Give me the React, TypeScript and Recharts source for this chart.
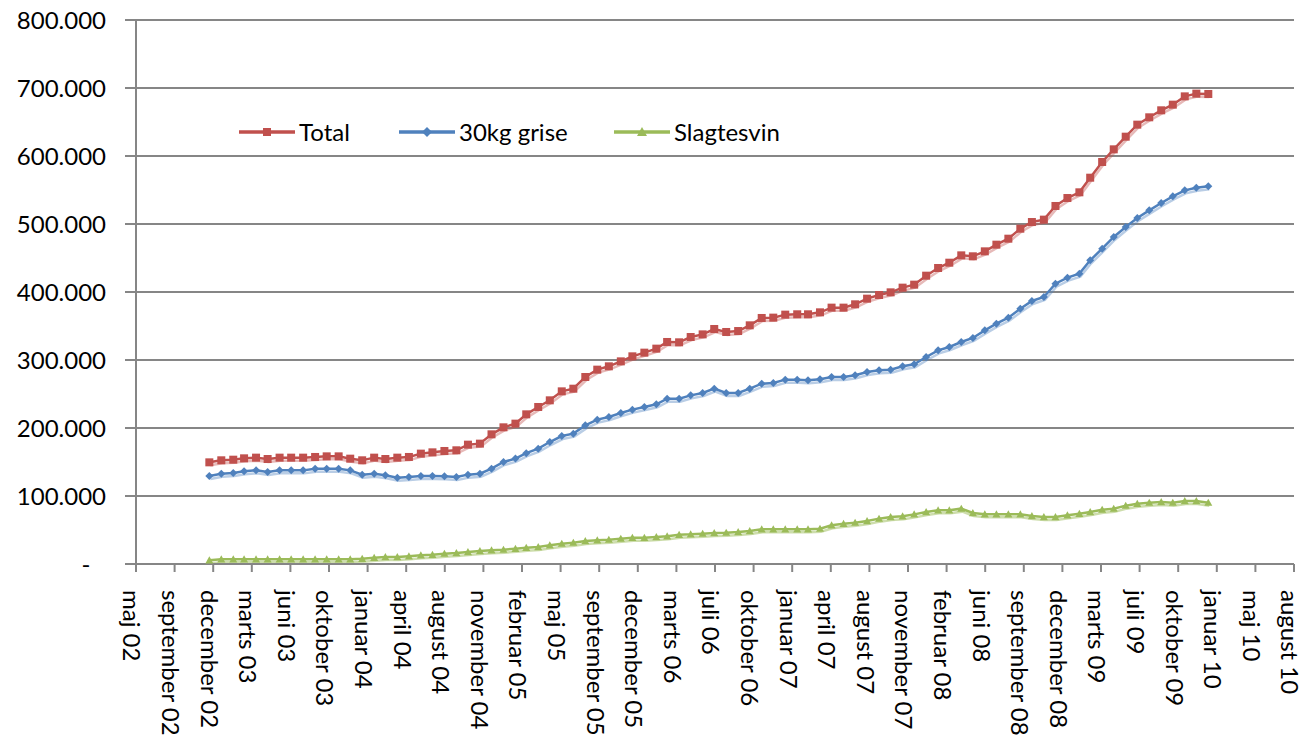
import React from "react";
import { CartesianGrid, Legend, Line, LineChart, XAxis, YAxis } from "recharts";

// x axis is counted in days from 25 May 2002, with a tick every 100 days (Excel date axis)
const AXIS_START = Date.UTC(2002, 4, 25);
const DAY = 86400000;

const TICK_LABELS = [
  "maj 02", "september 02", "december 02", "marts 03", "juni 03", "oktober 03",
  "januar 04", "april 04", "august 04", "november 04", "februar 05", "maj 05",
  "september 05", "december 05", "marts 06", "juli 06", "oktober 06", "januar 07",
  "april 07", "august 07", "november 07", "februar 08", "juni 08", "september 08",
  "december 08", "marts 09", "juli 09", "oktober 09", "januar 10", "maj 10", "august 10",
];

// monthly values in thousands, december 2002 .. januar 2010
const TOTAL = [
  149.5, 152.5, 153.4, 155.4, 156.4, 154.4, 156.4, 156.4, 156.4, 157.4, 158.3, 158.3,
  154.9, 152.5, 156.4, 154.4, 156.4, 157.4, 162.3, 164.2, 166.2, 167.2, 175.5, 177,
  190.7, 201, 206.4, 220.1, 230.9, 240.7, 253.9, 257.8, 275, 285.8, 290.7, 298,
  305.4, 310.8, 316.7, 326.5, 326, 333.8, 337.7, 345.6, 341.2, 342.6, 351, 361.8,
  362.3, 366.7, 367.2, 367.2, 370.1, 377, 377, 381.9, 390.2, 395.6, 399.5, 406.4,
  410.8, 424, 435.3, 443.1, 453.9, 452.5, 459.8, 469.6, 478.4, 493.1, 502.9, 506.4,
  526.5, 538.2, 546.6, 568.1, 591.2, 609.8, 628.4, 646.1, 656.9, 667.2, 675.5, 687.7,
  691.7, 691.2,
];

const GRISE = [
  129.4, 132.8, 133.8, 136.3, 137.7, 135.3, 137.7, 137.7, 137.7, 140.2, 140.2, 140.2,
  137.7, 131.4, 132.8, 130.4, 127, 127.9, 129.4, 129.4, 128.9, 127.9, 131.4, 132.8,
  140.2, 150, 155, 163, 169.6, 179.4, 188.2, 191.7, 203.9, 212.3, 216.2, 222.1,
  227, 230.9, 234.8, 243.1, 243.1, 248, 251.5, 257.8, 251.5, 251.5, 257.8, 265.2,
  266.2, 271.1, 271.1, 270.1, 271.6, 275, 275, 277.5, 282.4, 284.8, 285.8, 290.7,
  293.6, 304.4, 314.2, 319.1, 326.5, 332.4, 343.6, 353.4, 362.3, 375.5, 386.8, 392.6,
  412.3, 421.1, 427, 446.6, 463.7, 480.9, 495.6, 508.8, 520.1, 530.9, 540.7, 549.5,
  553.4, 555.4,
];

const SLAGTESVIN = [
  5.4, 6.9, 6.9, 6.9, 6.9, 6.9, 6.9, 6.9, 6.9, 6.9, 6.9, 6.9,
  6.9, 7.8, 9.3, 10.3, 10.3, 11.3, 12.7, 13.7, 15.2, 16.2, 17.6, 19.1,
  20.1, 21.1, 22.5, 24, 25, 27.5, 29.9, 31.4, 33.8, 34.8, 35.8, 37.3,
  38.7, 38.7, 39.7, 40.7, 43.1, 43.6, 44.6, 45.6, 46.1, 47.1, 48.5, 51,
  51, 51, 51, 51, 52, 56.9, 59.3, 60.8, 63.2, 66.7, 69.1, 70.1,
  73, 76.5, 78.9, 78.9, 81.4, 75, 73, 73, 73, 73, 70.6, 69.1,
  69.1, 71.6, 74, 76.5, 79.9, 81.4, 85.8, 88.7, 90.2, 91.2, 90.2, 92.6,
  92.6, 90.2,
];

const Y_TICKS = [0, 100000, 200000, 300000, 400000, 500000, 600000, 700000, 800000];

const RED = "#C0504D";
const BLUE = "#4F81BD";
const GREEN = "#9BBB59";
const GRID = "#868686";
const FONT = "Lato, 'Open Sans', sans-serif";

const rows = TOTAL.map((t, i) => ({
  day: (Date.UTC(2002, 11 + i, 1) - AXIS_START) / DAY,
  total: t * 1000,
  grise: GRISE[i] * 1000,
  slagtesvin: SLAGTESVIN[i] * 1000,
}));

const xTicks = TICK_LABELS.map((_, k) => k * 100);

const thousands = (v: number) =>
  String(Math.round(v)).replace(/\B(?=(\d{3})+(?!\d))/g, ".");

function YTick({ x, y, payload }: any) {
  const zero = payload.value === 0;
  return (
    <text
      x={zero ? x - 20 : x}
      y={y}
      dy="0.36em"
      textAnchor={zero ? "middle" : "end"}
      fontSize={24}
      fontFamily={FONT}
      fill="#000"
    >
      {zero ? "-" : thousands(payload.value)}
    </text>
  );
}

function XTick({ x, y, payload }: any) {
  const label = TICK_LABELS[Math.round(payload.value / 100)];
  const tx = x - 4;
  return (
    <text
      x={tx}
      y={y}
      transform={`rotate(90, ${tx}, ${y})`}
      dy="0.36em"
      textAnchor="start"
      fontSize={24}
      fontFamily={FONT}
      fill="#000"
    >
      {label}
    </text>
  );
}

const square = (color: string, s: number) => (p: any) =>
  <rect key={p.index} x={p.cx - s / 2} y={p.cy - s / 2} width={s} height={s} fill={color} />;

const diamond = (color: string, r: number) => (p: any) =>
  <polygon
    key={p.index}
    points={`${p.cx},${p.cy - r} ${p.cx + r},${p.cy} ${p.cx},${p.cy + r} ${p.cx - r},${p.cy}`}
    fill={color}
  />;

const triangle = (color: string, r: number) => (p: any) =>
  <polygon
    key={p.index}
    points={`${p.cx},${p.cy - r} ${p.cx + r},${p.cy + r * 0.8} ${p.cx - r},${p.cy + r * 0.8}`}
    fill={color}
  />;

const LEGEND_ITEMS = [
  { name: "Total", color: RED, left: 0, mark: "square" },
  { name: "30kg grise", color: BLUE, left: 160, mark: "diamond" },
  { name: "Slagtesvin", color: GREEN, left: 375, mark: "triangle" },
];

function LegendContent() {
  return (
    <div style={{ position: "relative", height: 30, fontFamily: FONT, fontSize: 24 }}>
      {LEGEND_ITEMS.map((it) => (
        <div
          key={it.name}
          style={{ position: "absolute", left: it.left, top: 0, display: "flex", alignItems: "center" }}
        >
          <svg width={56} height={14} style={{ marginRight: 4 }}>
            <line x1={0} y1={7} x2={56} y2={7} stroke={it.color} strokeWidth={3.5} />
            {it.mark === "square" && <rect x={24} y={3} width={8} height={8} fill={it.color} />}
            {it.mark === "diamond" && <polygon points="28,2 33,7 28,12 23,7" fill={it.color} />}
            {it.mark === "triangle" && <polygon points="28,2 33,11 23,11" fill={it.color} />}
          </svg>
          <span style={{ color: "#000", whiteSpace: "nowrap" }}>{it.name}</span>
        </div>
      ))}
    </div>
  );
}

export default function App() {
  return (
    <div style={{ position: "absolute", left: 0, top: 0, background: "#fff" }}>
      <style>{`
        .ln-red { filter: drop-shadow(1px 3px 0.5px rgba(192,80,77,0.4)); }
        .ln-blue { filter: drop-shadow(1px 3px 0.5px rgba(79,129,189,0.4)); }
        .ln-green { filter: drop-shadow(1px 3px 0.5px rgba(155,187,89,0.5)); }
      `}</style>
      <LineChart
        width={1306}
        height={741}
        data={rows}
        margin={{ top: 20, right: 12, bottom: 0, left: 0 }}
      >
        <CartesianGrid stroke={GRID} strokeWidth={2} vertical={false} />
        <XAxis
          type="number"
          dataKey="day"
          domain={[0, 3000]}
          ticks={xTicks}
          interval={0}
          height={177}
          stroke={GRID}
          strokeWidth={2}
          tickSize={8}
          tickMargin={18}
          tick={<XTick />}
        />
        <YAxis
          domain={[0, 800000]}
          ticks={Y_TICKS}
          interval={0}
          width={136}
          stroke={GRID}
          strokeWidth={2}
          tickSize={11}
          tickMargin={19}
          tick={<YTick />}
        />
        <Legend
          layout="horizontal"
          verticalAlign="middle"
          align="center"
          content={<LegendContent />}
          wrapperStyle={{ position: "absolute", top: 117, left: 239, width: 620, height: 30 }}
        />
        <Line
          className="ln-red"
          dataKey="total"
          name="Total"
          stroke={RED}
          strokeWidth={2.5}
          dot={square(RED, 8)}
          isAnimationActive={false}
        />
        <Line
          className="ln-blue"
          dataKey="grise"
          name="30kg grise"
          stroke={BLUE}
          strokeWidth={2.5}
          dot={diamond(BLUE, 4)}
          isAnimationActive={false}
        />
        <Line
          className="ln-green"
          dataKey="slagtesvin"
          name="Slagtesvin"
          stroke={GREEN}
          strokeWidth={2.5}
          dot={triangle(GREEN, 4)}
          isAnimationActive={false}
        />
      </LineChart>
    </div>
  );
}
